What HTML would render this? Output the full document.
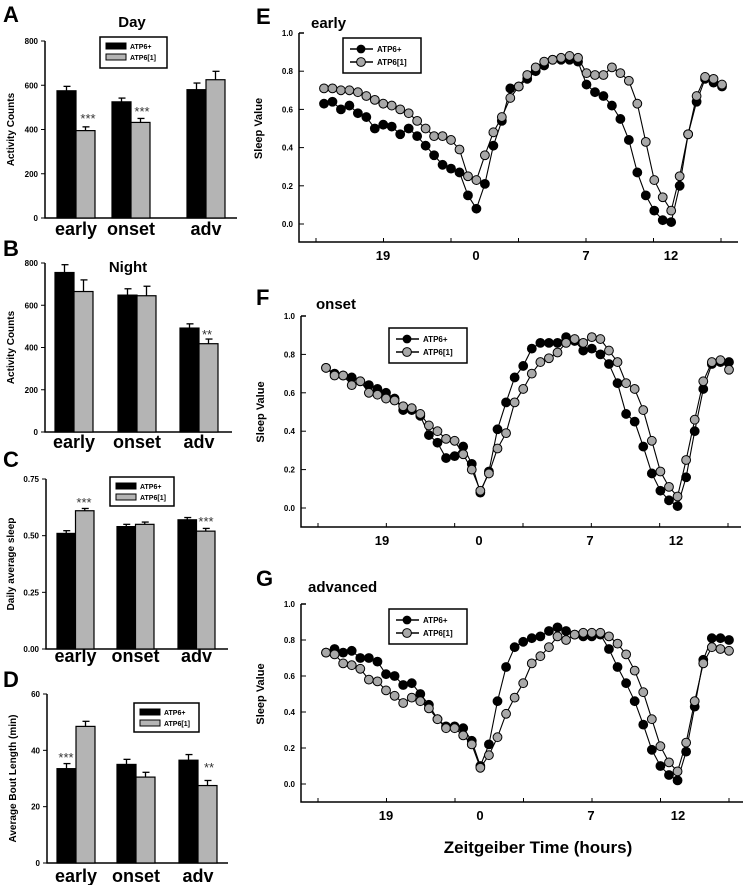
<!DOCTYPE html>
<html><head><meta charset="utf-8"><style>
html,body{margin:0;padding:0;background:#fff;}
svg{display:block;font-family:"Liberation Sans",Arial,sans-serif;font-weight:bold;}
</style></head><body>
<svg id="fig" width="750" height="885" viewBox="0 0 750 885" xmlns="http://www.w3.org/2000/svg"></svg>
<script>
// ---- Bar chart data ----
const barCategories = ["early","onset","adv"];
const dayBlack = [575,525,580];
const dayGray = [395,432,625];
const dayBlackErr = [20,17,30];
const dayGrayErr = [17,18,38];
const nightBlack = [755,648,492];
const nightGray = [665,645,418];
const nightBlackErr = [37,30,20];
const nightGrayErr = [55,45,22];
const sleepBlack = [0.51,0.54,0.57];
const sleepGray = [0.61,0.55,0.52];
const sleepBlackErr = [0.012,0.01,0.01];
const sleepGrayErr = [0.01,0.01,0.012];
const boutBlack = [33.5,35,36.5];
const boutGray = [48.5,30.5,27.5];
const boutBlackErr = [1.8,1.8,2];
const boutGrayErr = [1.8,1.7,1.8];
const countTicks = [0,200,400,600,800];
const sleepTicks = [0.00,0.25,0.50,0.75];
const boutTicks = [0,20,40,60];
// ---- Line chart data (48 half-hour bins) ----
const earlyBlack = [0.63,0.64,0.60,0.62,0.58,0.56,0.50,0.52,0.51,0.47,0.50,0.46,0.41,0.36,0.31,0.29,0.27,0.15,0.08,0.21,0.41,0.54,0.71,0.72,0.76,0.80,0.83,0.86,0.86,0.86,0.85,0.73,0.69,0.67,0.62,0.55,0.44,0.27,0.15,0.07,0.02,0.01,0.20,0.47,0.64,0.76,0.74,0.72];
const earlyGray = [0.71,0.71,0.70,0.70,0.69,0.67,0.65,0.63,0.62,0.60,0.58,0.54,0.50,0.46,0.46,0.44,0.39,0.25,0.23,0.36,0.48,0.56,0.66,0.72,0.78,0.82,0.85,0.86,0.87,0.88,0.87,0.79,0.78,0.78,0.82,0.79,0.75,0.63,0.43,0.23,0.14,0.07,0.25,0.47,0.67,0.77,0.76,0.73];
const onsetBlack = [0.73,0.70,0.69,0.68,0.66,0.64,0.62,0.60,0.57,0.51,0.51,0.48,0.38,0.34,0.26,0.27,0.32,0.23,0.08,0.19,0.41,0.55,0.68,0.74,0.83,0.86,0.86,0.86,0.89,0.87,0.82,0.83,0.80,0.75,0.65,0.49,0.45,0.32,0.18,0.09,0.04,0.01,0.16,0.40,0.62,0.75,0.76,0.76];
const onsetGray = [0.73,0.69,0.69,0.64,0.66,0.60,0.59,0.57,0.56,0.53,0.52,0.49,0.43,0.40,0.36,0.35,0.28,0.20,0.09,0.18,0.31,0.39,0.55,0.62,0.70,0.76,0.78,0.81,0.86,0.88,0.86,0.89,0.88,0.82,0.76,0.65,0.62,0.51,0.35,0.19,0.11,0.06,0.25,0.46,0.66,0.76,0.77,0.72];
const advBlack = [0.73,0.75,0.73,0.74,0.70,0.70,0.68,0.61,0.60,0.55,0.56,0.50,0.44,0.36,0.32,0.32,0.31,0.24,0.10,0.22,0.46,0.65,0.76,0.79,0.81,0.82,0.85,0.87,0.85,0.83,0.82,0.82,0.83,0.75,0.65,0.56,0.46,0.33,0.19,0.10,0.05,0.02,0.18,0.43,0.69,0.81,0.81,0.80];
const advGray = [0.73,0.72,0.67,0.66,0.64,0.58,0.57,0.52,0.49,0.45,0.48,0.46,0.42,0.36,0.31,0.31,0.27,0.22,0.09,0.16,0.26,0.39,0.48,0.56,0.67,0.71,0.76,0.82,0.80,0.83,0.84,0.84,0.84,0.82,0.78,0.72,0.63,0.51,0.36,0.21,0.12,0.07,0.23,0.46,0.67,0.76,0.75,0.74];
const lineTicks = [0.0,0.2,0.4,0.6,0.8,1.0];
const ztLabels = ["19","0","7","12"];

const NS="http://www.w3.org/2000/svg";
const svg=document.getElementById('fig');
function mk(tag,attrs,parent,txt){const e=document.createElementNS(NS,tag);for(const k in attrs)e.setAttribute(k,attrs[k]);if(txt!==undefined)e.textContent=txt;(parent||svg).appendChild(e);return e;}

function barChart(cfg){
  const g=mk('g',{});
  
  
  const y=v=>cfg.y0+(v-cfg.min)/(cfg.max-cfg.min)*(cfg.y1-cfg.y0);
  const L=mk('text',{x:cfg.lx,y:cfg.ly,'font-size':22},g,cfg.letter);
  
  
  const ax=mk('path',{d:`M${cfg.ax} ${cfg.y1} V${cfg.y0} H${cfg.axEnd}`,stroke:'#000','stroke-width':1.5,fill:'none'},g);
  
  
  cfg.ticks.forEach(t=>{
    mk('line',{x1:cfg.ax-4,x2:cfg.ax,y1:y(t),y2:y(t),stroke:'#000'},g);
    const tl=mk('text',{x:cfg.ax-7,y:y(t)+3,'font-size':8,'text-anchor':'end'},g,cfg.fmt(t));
    
    
  });
  const yt=mk('text',{x:0,y:0,'font-size':10,'text-anchor':'middle',transform:`translate(${cfg.ytx},${(cfg.y0+cfg.y1)/2}) rotate(-90)`},g,cfg.ytitle);
  
  
  barCategories.forEach((c,i)=>{
    const x=cfg.gx[i];
    [[cfg.black,cfg.berr,'#000',0],[cfg.gray,cfg.gerr,'#b4b4b4',1]].forEach(([vals,errs,col,k])=>{
      const bx=x+k*cfg.bw, top=y(vals[i]), et=y(vals[i]+errs[i]);
      mk('line',{x1:bx+cfg.bw/2,x2:bx+cfg.bw/2,y1:top,y2:et,stroke:'#000','stroke-width':1.3},g);
      mk('line',{x1:bx+cfg.bw/2-3,x2:bx+cfg.bw/2+4,y1:et,y2:et,stroke:'#000','stroke-width':1.3},g);
      const r=mk('rect',{x:bx,y:top,width:cfg.bw,height:cfg.y0-top,fill:col,stroke:'#000','stroke-width':1.2},g);
      
      
    });
    const cl=mk('text',{x:x+cfg.bw,y:cfg.cy,'font-size':18,'text-anchor':'middle'},g,c);
    
    
  });
  (cfg.stars||[]).forEach(s=>{
    const st=mk('text',{x:s[0],y:s[1],'font-size':13,'font-weight':'normal','text-anchor':'middle',fill:'#333'},g,s[2]);
    
    
  });
  if(cfg.title){const t=mk('text',{x:cfg.title[0],y:cfg.title[1],'font-size':15,'text-anchor':'middle'},g,cfg.title[2]);
    
    }
  if(cfg.leg){const [lx,ly,lw,lh]=cfg.leg;
    const lg=mk('g',{},g);
    
    
    mk('rect',{x:lx,y:ly,width:lw,height:lh,fill:'#fff',stroke:'#000','stroke-width':1.5},lg);
    mk('rect',{x:lx+6,y:ly+6,width:20,height:6,fill:'#000',stroke:'#000'},lg);
    mk('rect',{x:lx+6,y:ly+17,width:20,height:6,fill:'#b4b4b4',stroke:'#000'},lg);
    mk('text',{x:lx+30,y:ly+12,'font-size':7},lg,'ATP6+');
    mk('text',{x:lx+30,y:ly+23,'font-size':7},lg,'ATP6[1]');
  }
}
barChart({name:'chart-a-day',letter:'A',lx:3,ly:22,ax:45,axEnd:237,y0:218,y1:41,min:0,max:800,ticks:countTicks,fmt:t=>t,ytx:14,ytitle:'Activity Counts',gx:[57,112,187],bw:19,black:dayBlack,gray:dayGray,berr:dayBlackErr,gerr:dayGrayErr,cy:235,title:[132,27,'Day'],leg:[100,37,67,31],stars:[[88,123,'***'],[142,116,'***']]});
barChart({name:'chart-b-night',letter:'B',lx:3,ly:256,ax:45,axEnd:232,y0:432,y1:263,min:0,max:800,ticks:countTicks,fmt:t=>t,ytx:14,ytitle:'Activity Counts',gx:[55,118,180],bw:19,black:nightBlack,gray:nightGray,berr:nightBlackErr,gerr:nightGrayErr,cy:448,title:[128,272,'Night'],stars:[[207,339,'**']]});
barChart({name:'chart-c-sleep',letter:'C',lx:3,ly:467,ax:46,axEnd:228,y0:649,y1:479,min:0,max:0.75,ticks:sleepTicks,fmt:t=>t.toFixed(2),ytx:14,ytitle:'Daily average sleep',gx:[57,117,178],bw:18.5,black:sleepBlack,gray:sleepGray,berr:sleepBlackErr,gerr:sleepGrayErr,cy:662,leg:[110,477,64,29],stars:[[84,507,'***'],[206,526,'***']]});
barChart({name:'chart-d-bout',letter:'D',lx:3,ly:687,ax:47,axEnd:228,y0:863,y1:694,min:0,max:60,ticks:boutTicks,fmt:t=>t,ytx:16,ytitle:'Average Bout Length (min)',gx:[57,117,179],bw:19,black:boutBlack,gray:boutGray,berr:boutBlackErr,gerr:boutGrayErr,cy:882,leg:[134,703,65,29],stars:[[66,762,'***'],[209,772,'**']]});

function lineChart(cfg){
  const g=mk('g',{});
  
  
  const y=v=>cfg.y0+v*(cfg.y1-cfg.y0);
  const n=cfg.black.length;
  const x=i=>cfg.px0+i*(cfg.px1-cfg.px0)/(n-1);
  const L=mk('text',{x:cfg.lx,y:cfg.ly,'font-size':22},g,cfg.letter);
  
  
  const t=mk('text',{x:cfg.tx,y:cfg.ty,'font-size':15},g,cfg.title);
  
  
  const ax=mk('path',{d:`M${cfg.ax} ${cfg.y1} H${cfg.ax+5} M${cfg.ax} ${cfg.y1} V${cfg.xy} H${cfg.axEnd}`,stroke:'#000','stroke-width':1.5,fill:'none'},g);
  
  
  lineTicks.forEach(tk=>{
    mk('line',{x1:cfg.ax,x2:cfg.ax+5,y1:y(tk),y2:y(tk),stroke:'#000'},g);
    const tl=mk('text',{x:cfg.ax-6,y:y(tk)+3,'font-size':8,'text-anchor':'end'},g,tk.toFixed(1));
    
    
  });
  for(let k=0;k<7;k++){const tx=cfg.tk0+k*(cfg.tk1-cfg.tk0)/6;mk('line',{x1:tx,x2:tx,y1:cfg.xy-4,y2:cfg.xy,stroke:'#000'},g);}
  ztLabels.forEach((s,i)=>{const tl=mk('text',{x:cfg.lab[i],y:cfg.xy+18,'font-size':13,'text-anchor':'middle'},g,s);
    
    });
  const yt=mk('text',{x:0,y:0,'font-size':11,'text-anchor':'middle',transform:`translate(${cfg.ax-37},${(cfg.y0+cfg.y1)/2}) rotate(-90)`},g,'Sleep Value');
  
  
  [[cfg.black,'#000','atp6-plus'],[cfg.gray,'#a8a8a8','atp6-1']].forEach(([vals,col,nm])=>{
    const sg=mk('g',{},g);
    
    
    mk('polyline',{points:vals.map((v,i)=>x(i)+','+y(v)).join(' '),fill:'none',stroke:'#000','stroke-width':1.1},sg);
    vals.forEach((v,i)=>{const c=mk('circle',{cx:x(i),cy:y(v),r:4.4,fill:col,stroke:'#000','stroke-width':1},sg);
      
      });
  });
  const [lx,ly]=cfg.leg;
  const lg=mk('g',{},g);
  
  
  mk('rect',{x:lx,y:ly,width:78,height:35,fill:'#fff',stroke:'#000','stroke-width':1.5},lg);
  mk('line',{x1:lx+7,x2:lx+30,y1:ly+11,y2:ly+11,stroke:'#000','stroke-width':1.5},lg);
  mk('circle',{cx:lx+18,cy:ly+11,r:4.4,fill:'#000'},lg);
  mk('line',{x1:lx+7,x2:lx+30,y1:ly+24,y2:ly+24,stroke:'#000','stroke-width':1.5},lg);
  mk('circle',{cx:lx+18,cy:ly+24,r:4.4,fill:'#a8a8a8',stroke:'#000'},lg);
  mk('text',{x:lx+34,y:ly+14,'font-size':8},lg,'ATP6+');
  mk('text',{x:lx+34,y:ly+27,'font-size':8},lg,'ATP6[1]');
}
lineChart({name:'chart-e-early',letter:'E',lx:256,ly:24,tx:311,ty:28,title:'early',ax:299,axEnd:738,y0:224,y1:33,xy:242,px0:324,px1:722,tk0:316,tk1:721,lab:[383,476,586,671],black:earlyBlack,gray:earlyGray,leg:[343,38]});
lineChart({name:'chart-f-onset',letter:'F',lx:256,ly:305,tx:316,ty:309,title:'onset',ax:301,axEnd:741,y0:508,y1:316,xy:527,px0:326,px1:729,tk0:318,tk1:728,lab:[382,479,590,676],black:onsetBlack,gray:onsetGray,leg:[389,328]});
lineChart({name:'chart-g-advanced',letter:'G',lx:256,ly:586,tx:308,ty:592,title:'advanced',ax:301,axEnd:743,y0:784,y1:604,xy:802,px0:326,px1:729,tk0:318,tk1:729,lab:[386,480,591,678],black:advBlack,gray:advGray,leg:[389,609]});
const xt=mk('text',{x:538,y:853,'font-size':17,'text-anchor':'middle'},svg,'Zeitgeiber Time (hours)');


</script>
</body></html>
